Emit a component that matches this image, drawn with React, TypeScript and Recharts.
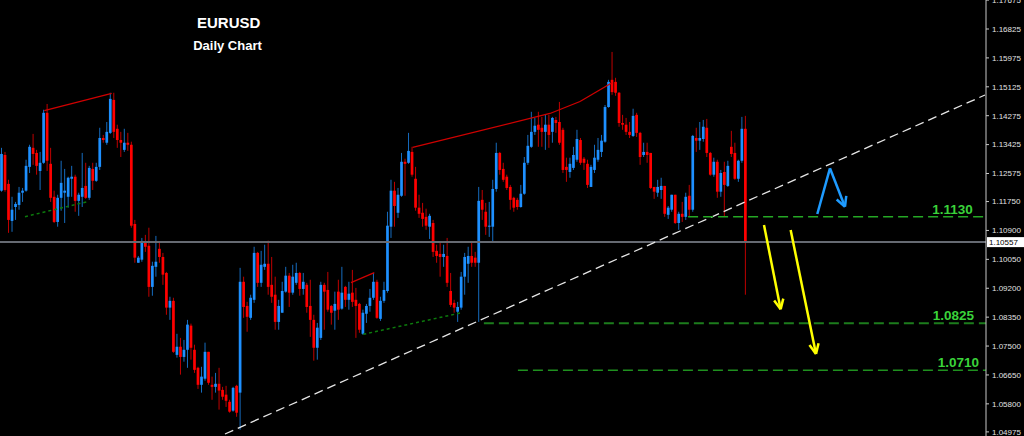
import { ComposedChart, Bar, XAxis, YAxis, ReferenceLine } from 'recharts';

const BULL = '#1e90ff';
const BEAR = '#ff0000';

// daily EURUSD candles, oldest first
const opens = [
  1.1207, 1.1312, 1.1227, 1.1118, 1.1159, 1.1165, 1.1201, 1.1207, 1.1277, 1.1333,
  1.1318, 1.1265, 1.1289, 1.1436, 1.1286, 1.1189, 1.1115, 1.1186, 1.1201, 1.1189,
  1.1242, 1.1248, 1.1177, 1.1189, 1.1221, 1.1186, 1.1271, 1.1236, 1.1277, 1.1362,
  1.1348, 1.1377, 1.1474, 1.1389, 1.1356, 1.1327, 1.1348, 1.1342, 1.1109, 1.0995,
  1.1004, 1.1054, 1.1045, 1.0924, 1.0983, 1.1036, 1.1012, 1.0965, 1.0863, 1.0883,
  1.0724, 1.0748, 1.0718, 1.0739, 1.0810, 1.0739, 1.0686, 1.0636, 1.0654, 1.0733,
  1.0636, 1.0630, 1.0639, 1.0621, 1.0607, 1.0586, 1.0560, 1.0633, 1.0613, 1.0939,
  1.0868, 1.0833, 1.0886, 1.1024, 1.0936, 1.0983, 1.0992, 1.0930, 1.0901, 1.0821,
  1.0848, 1.0910, 1.0957, 1.0907, 1.0936, 1.0965, 1.0918, 1.0930, 1.0868, 1.0827,
  1.0745, 1.0774, 1.0930, 1.0915, 1.0868, 1.0854, 1.0910, 1.0860, 1.0924, 1.0886,
  1.0907, 1.0886, 1.0874, 1.0786, 1.0845, 1.0868, 1.0892, 1.0939, 1.0830, 1.0883,
  1.0912, 1.1101, 1.1207, 1.1142, 1.1192, 1.1292, 1.1289, 1.1321, 1.1242, 1.1157,
  1.1142, 1.1130, 1.1101, 1.1112, 1.1030, 1.1021, 1.1012, 1.1015, 1.0912, 1.0877,
  1.0851, 1.0863, 1.0954, 1.0992, 1.1015, 1.1010, 1.0995, 1.1180, 1.1145, 1.1101,
  1.1101, 1.1212, 1.1318, 1.1271, 1.1248, 1.1218, 1.1186, 1.1180, 1.1159, 1.1198,
  1.1289, 1.1336, 1.1380, 1.1401, 1.1392, 1.1380, 1.1401, 1.1380, 1.1415, 1.1409,
  1.1386, 1.1277, 1.1262, 1.1274, 1.1298, 1.1356, 1.1301, 1.1286, 1.1218, 1.1268,
  1.1298, 1.1321, 1.1351, 1.1453, 1.1533, 1.1527, 1.1495, 1.1406, 1.1401, 1.1380,
  1.1368, 1.1430, 1.1377, 1.1312, 1.1321, 1.1318, 1.1218, 1.1201, 1.1209, 1.1221,
  1.1136, 1.1151, 1.1195, 1.1112, 1.1139, 1.1130, 1.1192, 1.1151, 1.1362, 1.1354,
  1.1359, 1.1392, 1.1318, 1.1254, 1.1292, 1.1204, 1.1262, 1.1221, 1.1336, 1.1318,
  1.1242, 1.1295, 1.1389,
];
const highs = [
  1.1333, 1.1321, 1.1239, 1.1189, 1.1174, 1.1218, 1.1215, 1.1298, 1.1342, 1.1374,
  1.1327, 1.1321, 1.1445, 1.1462, 1.1333, 1.1207, 1.1195, 1.1295, 1.1271, 1.1248,
  1.1280, 1.1254, 1.1201, 1.1318, 1.1289, 1.1280, 1.1289, 1.1289, 1.1392, 1.1371,
  1.1409, 1.1495, 1.1495, 1.1401, 1.1380, 1.1389, 1.1377, 1.1351, 1.1121, 1.1015,
  1.1068, 1.1077, 1.1098, 1.0998, 1.1074, 1.1054, 1.1024, 1.0968, 1.0895, 1.0892,
  1.0786, 1.0774, 1.0768, 1.0827, 1.0816, 1.0754, 1.0689, 1.0689, 1.0760, 1.0733,
  1.0660, 1.0671, 1.0686, 1.0630, 1.0633, 1.0592, 1.0630, 1.0636, 1.0980, 1.0954,
  1.0880, 1.0901, 1.1042, 1.1027, 1.1030, 1.1048, 1.1060, 1.1012, 1.0954, 1.0886,
  1.0939, 1.0983, 1.0965, 1.0989, 1.0995, 1.0968, 1.0965, 1.0936, 1.0945, 1.0842,
  1.0818, 1.0939, 1.0936, 1.0968, 1.0871, 1.0910, 1.0945, 1.0983, 1.0927, 1.0939,
  1.0974, 1.0921, 1.0877, 1.0857, 1.0874, 1.0918, 1.0965, 1.0945, 1.0895, 1.0939,
  1.1145, 1.1239, 1.1233, 1.1215, 1.1318, 1.1301, 1.1377, 1.1336, 1.1277, 1.1195,
  1.1171, 1.1154, 1.1139, 1.1121, 1.1048, 1.1054, 1.1048, 1.1068, 1.0965, 1.0886,
  1.0880, 1.0968, 1.1024, 1.1042, 1.1057, 1.1027, 1.1218, 1.1209, 1.1171, 1.1174,
  1.1239, 1.1348, 1.1321, 1.1289, 1.1254, 1.1224, 1.1189, 1.1186, 1.1224, 1.1306,
  1.1371, 1.1439, 1.1421, 1.1439, 1.1424, 1.1430, 1.1430, 1.1424, 1.1424, 1.1468,
  1.1392, 1.1304, 1.1304, 1.1336, 1.1386, 1.1362, 1.1306, 1.1298, 1.1283, 1.1342,
  1.1362, 1.1371, 1.1459, 1.1533, 1.1615, 1.1539, 1.1497, 1.1430, 1.1421, 1.1409,
  1.1448, 1.1436, 1.1380, 1.1348, 1.1348, 1.1318, 1.1218, 1.1239, 1.1245, 1.1221,
  1.1162, 1.1195, 1.1195, 1.1145, 1.1174, 1.1201, 1.1224, 1.1371, 1.1392, 1.1409,
  1.1415, 1.1418, 1.1321, 1.1304, 1.1298, 1.1268, 1.1292, 1.1295, 1.1383, 1.1348,
  1.1298, 1.1424, 1.1427,
];
const lows = [
  1.1204, 1.1204, 1.1083, 1.1086, 1.1121, 1.1151, 1.1174, 1.1204, 1.1259, 1.1283,
  1.1254, 1.1209, 1.1286, 1.1265, 1.1174, 1.1112, 1.1101, 1.1148, 1.1112, 1.1157,
  1.1189, 1.1145, 1.1133, 1.1159, 1.1183, 1.1180, 1.1209, 1.1233, 1.1268, 1.1348,
  1.1342, 1.1374, 1.1362, 1.1333, 1.1306, 1.1321, 1.1324, 1.1098, 1.0995, 1.0995,
  1.0998, 1.1027, 1.0895, 1.0898, 1.0954, 1.0995, 1.0930, 1.0842, 1.0827, 1.0730,
  1.0716, 1.0666, 1.0704, 1.0686, 1.0710, 1.0671, 1.0624, 1.0613, 1.0648, 1.0636,
  1.0592, 1.0613, 1.0563, 1.0592, 1.0571, 1.0554, 1.0557, 1.0542, 1.0504, 1.0833,
  1.0792, 1.0827, 1.0877, 1.0924, 1.0924, 1.0974, 1.0901, 1.0877, 1.0798, 1.0798,
  1.0848, 1.0907, 1.0865, 1.0901, 1.0930, 1.0898, 1.0901, 1.0848, 1.0777, 1.0707,
  1.0710, 1.0768, 1.0798, 1.0851, 1.0813, 1.0798, 1.0827, 1.0857, 1.0865, 1.0857,
  1.0865, 1.0774, 1.0789, 1.0783, 1.0818, 1.0851, 1.0886, 1.0830, 1.0824, 1.0877,
  1.0907, 1.1068, 1.1101, 1.1127, 1.1189, 1.1192, 1.1286, 1.1248, 1.1148, 1.1127,
  1.1101, 1.1092, 1.1065, 1.1012, 1.0995, 1.0954, 1.0983, 1.0924, 1.0865, 1.0848,
  1.0821, 1.0857, 1.0901, 1.0936, 1.0983, 1.0983, 1.0821, 1.1121, 1.1077, 1.1071,
  1.1057, 1.1204, 1.1254, 1.1233, 1.1209, 1.1151, 1.1145, 1.1151, 1.1157, 1.1195,
  1.1283, 1.1333, 1.1371, 1.1336, 1.1336, 1.1327, 1.1333, 1.1348, 1.1377, 1.1342,
  1.1259, 1.1233, 1.1245, 1.1268, 1.1292, 1.1283, 1.1268, 1.1215, 1.1218, 1.1259,
  1.1292, 1.1306, 1.1348, 1.1451, 1.1489, 1.1486, 1.1395, 1.1386, 1.1371, 1.1362,
  1.1365, 1.1365, 1.1283, 1.1306, 1.1289, 1.1212, 1.1183, 1.1189, 1.1183, 1.1130,
  1.1124, 1.1145, 1.1109, 1.1092, 1.1115, 1.1121, 1.1130, 1.1145, 1.1321, 1.1327,
  1.1351, 1.1306, 1.1251, 1.1248, 1.1186, 1.1189, 1.1130, 1.1218, 1.1306, 1.1239,
  1.1233, 1.1289, 1.0901,
];
const closes = [
  1.1315, 1.1209, 1.1121, 1.1151, 1.1168, 1.1201, 1.1207, 1.1280, 1.1336, 1.1315,
  1.1280, 1.1289, 1.1436, 1.1295, 1.1186, 1.1115, 1.1186, 1.1230, 1.1207, 1.1245,
  1.1248, 1.1177, 1.1195, 1.1215, 1.1186, 1.1274, 1.1236, 1.1277, 1.1362, 1.1356,
  1.1380, 1.1477, 1.1380, 1.1356, 1.1348, 1.1348, 1.1342, 1.1104, 1.1010, 1.1010,
  1.1054, 1.1042, 1.0924, 1.0986, 1.0998, 1.1012, 1.0960, 1.0863, 1.0883, 1.0733,
  1.0748, 1.0718, 1.0739, 1.0813, 1.0745, 1.0680, 1.0636, 1.0660, 1.0733, 1.0642,
  1.0630, 1.0639, 1.0619, 1.0601, 1.0589, 1.0557, 1.0627, 1.0554, 1.0939, 1.0865,
  1.0836, 1.0892, 1.1024, 1.0936, 1.0989, 1.0992, 1.0924, 1.0895, 1.0821, 1.0868,
  1.0912, 1.0957, 1.0907, 1.0954, 1.0965, 1.0918, 1.0939, 1.0865, 1.0827, 1.0745,
  1.0804, 1.0930, 1.0910, 1.0857, 1.0848, 1.0874, 1.0857, 1.0907, 1.0886, 1.0904,
  1.0880, 1.0868, 1.0798, 1.0848, 1.0868, 1.0892, 1.0939, 1.0833, 1.0883, 1.0915,
  1.1104, 1.1207, 1.1162, 1.1195, 1.1292, 1.1286, 1.1324, 1.1254, 1.1157, 1.1139,
  1.1124, 1.1104, 1.1133, 1.1027, 1.1015, 1.1012, 1.1021, 1.0936, 1.0871, 1.0863,
  1.0865, 1.0954, 1.1012, 1.1015, 1.0995, 1.0995, 1.1177, 1.1151, 1.1101, 1.1104,
  1.1212, 1.1318, 1.1268, 1.1239, 1.1215, 1.1180, 1.1157, 1.1159, 1.1198, 1.1289,
  1.1339, 1.1380, 1.1398, 1.1386, 1.1380, 1.1401, 1.1371, 1.1421, 1.1406, 1.1348,
  1.1268, 1.1268, 1.1286, 1.1312, 1.1359, 1.1289, 1.1289, 1.1224, 1.1277, 1.1304,
  1.1327, 1.1354, 1.1453, 1.1527, 1.1497, 1.1495, 1.1406, 1.1401, 1.1380, 1.1371,
  1.1427, 1.1377, 1.1306, 1.1321, 1.1312, 1.1215, 1.1204, 1.1218, 1.1221, 1.1139,
  1.1157, 1.1195, 1.1112, 1.1139, 1.1130, 1.1189, 1.1151, 1.1368, 1.1354, 1.1362,
  1.1395, 1.1318, 1.1254, 1.1292, 1.1204, 1.1259, 1.1224, 1.1280, 1.1315, 1.1242,
  1.1295, 1.1389, 1.10557,
];

const LAST_PRICE = 1.10557;
const SLOTS = 281; // visible bar slots incl. empty space on the right
const Y_MIN = 1.048545;
const Y_MAX = 1.17678;

const yTicks = [
  1.04975, 1.058, 1.0665, 1.075, 1.0835, 1.092, 1.1005, 1.109, 1.1175,
  1.12575, 1.13425, 1.14275, 1.15125, 1.15975, 1.16825, 1.17675,
];

// horizontal target levels: [label, price, first bar]
const levels: [string, number, number][] = [
  ['1.1130', 1.113, 196.1],
  ['1.0825', 1.0817, 137.9],
  ['1.0710', 1.0679, 147.6],
];

// trend lines as [x, price] points
const redLines: [number, number][][] = [
  [[12.62, 1.14422], [31.83, 1.14934]],
  [[100.03, 1.09363], [106.67, 1.09657]],
  [[117.61, 1.13346], [156.74, 1.1434], [165.29, 1.14693], [174.41, 1.15246]],
];
const greenLines: [number, number][][] = [
  [[7.12, 1.11305], [24.88, 1.11746]],
  [[103.53, 1.07846], [131.58, 1.08481]],
];
const support: [number, number][] = [[64.12, 1.04913], [280.71, 1.14884]];

const yellowArrows: [number, number][][] = [
  [[217.73, 1.1106], [222.48, 1.08581], [223.23, 1.08896], [220.63, 1.08843]],
  [[225.33, 1.10913], [232.55, 1.07266], [233.28, 1.07581], [230.69, 1.07528]],
];
const blueArrow: [number, number][] = [
  [232.92, 1.11384], [236.53, 1.12728], [240.81, 1.11599], [241.18, 1.11919], [238.44, 1.1181],
];

const table = opens.map((o, i) => ({
  x: i + 0.5,
  open: o,
  high: highs[i],
  low: lows[i],
  close: closes[i],
  range: [lows[i], highs[i]],
}));

function Candle(props: any) {
  const { x, y, width, height, payload } = props;
  if (height == null || !payload) return null;
  const { open, close, high, low } = payload;
  const k = height / (high - low);
  const yOf = (v: number) => y + (high - v) * k;
  const color = close >= open ? BULL : BEAR;
  const cx = x + width / 2;
  const top = yOf(Math.max(open, close));
  const bot = yOf(Math.min(open, close));
  return (
    <g>
      <line x1={cx} x2={cx} y1={y} y2={y + height} stroke={color} strokeOpacity={0.75} strokeWidth={1} />
      <rect x={cx - 1.35} y={top} width={2.7} height={Math.max(bot - top, 1)} fill={color} />
    </g>
  );
}

function PriceTag({ viewBox }: any) {
  const left = viewBox.x + viewBox.width + 1;
  return (
    <g>
      <rect x={left} y={viewBox.y - 5} width={37} height={10} fill="#ffffff" />
      <text x={left + 2} y={viewBox.y + 3} fontSize={8} fontFamily="Liberation Sans" fill="#000">
        {LAST_PRICE.toFixed(5)}
      </text>
    </g>
  );
}

const levelLabel = (text: string, dxEnd: number) => ({ viewBox }: any) => (
  <text
    x={viewBox.x + viewBox.width - dxEnd}
    y={viewBox.y - 3}
    textAnchor="end"
    fontSize={13.5}
    fontWeight="bold"
    fontFamily="Liberation Sans"
    fill="#3ad33a"
  >
    {text}
  </text>
);

const segs = (pts: [number, number][]) =>
  pts.slice(1).map((p, i) => [{ x: pts[i][0], y: pts[i][1] }, { x: p[0], y: p[1] }]);

const arrowSegs = (a: [number, number][]) => [
  [{ x: a[0][0], y: a[0][1] }, { x: a[1][0], y: a[1][1] }],
  [{ x: a[1][0], y: a[1][1] }, { x: a[2][0], y: a[2][1] }],
  [{ x: a[1][0], y: a[1][1] }, { x: a[3][0], y: a[3][1] }],
];

const levelColors = ['#25a825', '#1c7c1c', '#1f901f'];
const levelEnds = [13.3, 12, 7];

export default function App() {
  const blueSegs = [
    [{ x: blueArrow[0][0], y: blueArrow[0][1] }, { x: blueArrow[1][0], y: blueArrow[1][1] }],
    [{ x: blueArrow[1][0], y: blueArrow[1][1] }, { x: blueArrow[2][0], y: blueArrow[2][1] }],
    [{ x: blueArrow[2][0], y: blueArrow[2][1] }, { x: blueArrow[3][0], y: blueArrow[3][1] }],
    [{ x: blueArrow[2][0], y: blueArrow[2][1] }, { x: blueArrow[4][0], y: blueArrow[4][1] }],
  ];
  return (
    <div style={{ position: 'relative', width: 1024, height: 436, background: '#000' }}>
      <style>{'body{margin:0;background:#000}'}</style>
      <ComposedChart width={1024} height={436} data={table} margin={{ top: 0, right: 0, bottom: 0, left: 0 }}>
        <XAxis type="number" dataKey="x" domain={[0, SLOTS]} hide allowDataOverflow />
        <YAxis
          orientation="right"
          domain={[Y_MIN, Y_MAX]}
          ticks={yTicks}
          width={38}
          allowDataOverflow
          interval={0}
          tickFormatter={(v: number) => v.toFixed(5)}
          tick={{ fill: '#e2e2e2', fontSize: 8, fontFamily: 'Liberation Sans' }}
          tickSize={3}
          tickMargin={3}
          axisLine={{ stroke: '#c8c8c8' }}
          tickLine={{ stroke: '#c8c8c8' }}
        />
        <ReferenceLine y={LAST_PRICE} stroke="#666a72" strokeWidth={2} label={<PriceTag />} />
        <Bar dataKey="range" barSize={3} shape={Candle} isAnimationActive={false} />
        {redLines.flatMap((l, j) =>
          segs(l).map((s, i) => (
            <ReferenceLine key={`r${j}-${i}`} segment={s} stroke="#d00000" strokeWidth={1.3} ifOverflow="visible" />
          ))
        )}
        {greenLines.flatMap((l, j) =>
          segs(l).map((s, i) => (
            <ReferenceLine
              key={`g${j}-${i}`}
              segment={s}
              stroke="#0c7a0c"
              strokeWidth={1.5}
              strokeDasharray="3 3"
              ifOverflow="visible"
            />
          ))
        )}
        <ReferenceLine
          segment={[{ x: support[0][0], y: support[0][1] }, { x: support[1][0], y: support[1][1] }]}
          stroke="#e6e6e6"
          strokeWidth={1.3}
          strokeDasharray="9 5"
          ifOverflow="visible"
        />
        {levels.map(([text, price, from], i) => (
          <ReferenceLine
            key={text}
            segment={[{ x: from, y: price }, { x: SLOTS, y: price }]}
            stroke={levelColors[i]}
            strokeWidth={i === 1 ? 2 : 1.5}
            strokeDasharray="10 5"
            ifOverflow="visible"
            label={levelLabel(text, levelEnds[i])}
          />
        ))}
        {yellowArrows.flatMap((a, j) =>
          arrowSegs(a).map((s, i) => (
            <ReferenceLine key={`y${j}-${i}`} segment={s} stroke="#ffff00" strokeWidth={2.5} ifOverflow="visible" />
          ))
        )}
        {blueSegs.map((s, i) => (
          <ReferenceLine key={`b${i}`} segment={s} stroke="#1e9bff" strokeWidth={2.5} ifOverflow="visible" />
        ))}
      </ComposedChart>
      <svg width={1024} height={60} style={{ position: 'absolute', left: 0, top: 0, pointerEvents: 'none' }}>
        <text x={228.7} y={28.3} textAnchor="middle" fontSize={15} fontWeight="bold" fontFamily="Liberation Sans" fill="#fff">
          EURUSD
        </text>
        <text x={227.5} y={50} textAnchor="middle" fontSize={13} fontWeight="bold" fontFamily="Liberation Sans" fill="#fff">
          Daily Chart
        </text>
      </svg>
    </div>
  );
}
